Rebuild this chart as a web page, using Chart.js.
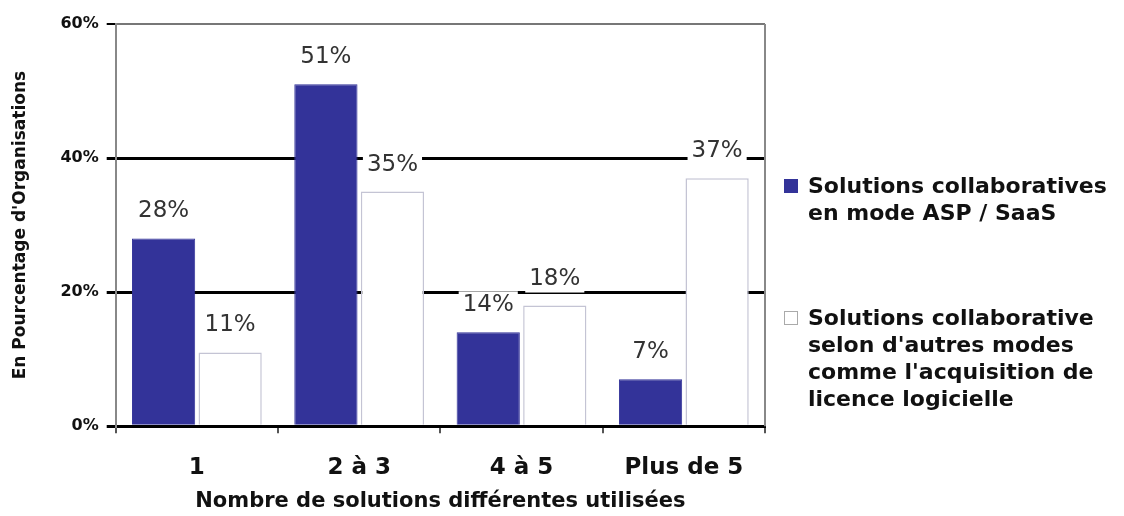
<!DOCTYPE html>
<html>
<head>
<meta charset="utf-8">
<script src="https://cdn.jsdelivr.net/npm/chart.js@4"></script>
<style>
  body { margin: 0; background: #fff; }
  #wrap { position: relative; width: 1124px; height: 516px; overflow: hidden; }
  #legend { position: absolute; left: 784px; top: 0; font-family: "DejaVu Sans", sans-serif; font-weight: bold; font-size: 22px; line-height: 27px; color: #111; }
  .item { position: absolute; left: 0; white-space: nowrap; }
  .box { position: absolute; left: 0; width: 12px; height: 12px; }
  .txt { position: absolute; left: 24px; }
</style>
</head>
<body>
<div id="wrap">
  <canvas id="chart" width="1124" height="516"></canvas>
  <div id="legend"></div>
</div>
<script>
'use strict';

const categories = ['1', '2 à 3', '4 à 5', 'Plus de 5'];
const saasValues = [28, 51, 14, 7];
const otherValues = [11, 35, 18, 37];
const seriesNames = [
    ['Solutions collaboratives', 'en mode ASP / SaaS'],
    ['Solutions collaborative', 'selon d\'autres modes', 'comme l\'acquisition de', 'licence logicielle']
];
const yTicks = [0, 20, 40, 60];

const blue = '#333399';

// value labels with a white box behind them
const valueLabels = {
    id: 'valueLabels',
    afterDatasetsDraw(chart) {
        const ctx = chart.ctx;
        ctx.save();
        ctx.font = '23px "DejaVu Sans", sans-serif';
        ctx.textAlign = 'center';
        ctx.textBaseline = 'middle';
        chart.data.datasets.forEach((ds, i) => {
            chart.getDatasetMeta(i).data.forEach((bar, j) => {
                const text = `${ds.data[j]}%`;
                const y = bar.y - 27;
                const w = ctx.measureText(text).width + 8;
                ctx.fillStyle = '#ffffff';
                ctx.fillRect(bar.x - w / 2, y - 14, w, 28);
                ctx.fillStyle = '#333333';
                ctx.fillText(text, bar.x, y);
            });
        });
        ctx.restore();
    }
};

// right border of the plot
const frame = {
    id: 'frame',
    beforeDatasetsDraw(chart) {
        const a = chart.chartArea;
        const ctx = chart.ctx;
        ctx.save();
        ctx.strokeStyle = '#888888';
        ctx.lineWidth = 2;
        ctx.beginPath();
        ctx.moveTo(a.right, a.top);
        ctx.lineTo(a.right, a.bottom);
        ctx.stroke();
        ctx.restore();
    }
};

const chart = new Chart(document.getElementById('chart'), {
    type: 'bar',
    data: {
        labels: categories,
        datasets: [
            {
                label: seriesNames[0].join(' '),
                data: saasValues,
                backgroundColor: blue,
                borderColor: blue,
                borderWidth: 1,
                categoryPercentage: 0.82,
                barPercentage: 0.95
            },
            {
                label: seriesNames[1].join(' '),
                data: otherValues,
                backgroundColor: '#ffffff',
                borderColor: '#c4c4d4',
                borderWidth: 1.5,
                categoryPercentage: 0.82,
                barPercentage: 0.95
            }
        ]
    },
    options: {
        responsive: false,
        animation: false,
        layout: {
            padding: { left: 10, top: 24, right: 359, bottom: 0 }
        },
        scales: {
            x: {
                grid: {
                    drawOnChartArea: false,
                    tickLength: 7,
                    tickColor: '#555555',
                    lineWidth: 2
                },
                border: { color: '#000000', width: 3 },
                ticks: {
                    color: '#111111',
                    font: { family: '"DejaVu Sans", sans-serif', weight: 'bold', size: 23 },
                    padding: 21
                },
                title: {
                    display: true,
                    text: 'Nombre de solutions différentes utilisées',
                    color: '#111111',
                    font: { family: '"DejaVu Sans", sans-serif', weight: 'bold', size: 21 },
                    padding: { top: -14, bottom: 2 }
                }
            },
            y: {
                min: 0,
                max: 60,
                afterBuildTicks: axis => {
                    axis.ticks = yTicks.map(v => ({ value: v }));
                },
                grid: {
                    color: c => c.tick.value === 60 ? '#777777' : '#000000',
                    lineWidth: c => c.tick.value === 60 ? 2 : 3,
                    tickColor: '#000000',
                    tickLength: 9
                },
                border: { color: '#888888', width: 2 },
                ticks: {
                    color: '#111111',
                    font: { family: '"DejaVu Sans", sans-serif', weight: 'bold', size: 16 },
                    padding: 8,
                    callback: v => `${v}%`
                },
                title: {
                    display: true,
                    text: 'En Pourcentage d\'Organisations',
                    color: '#111111',
                    font: { family: '"DejaVu Sans", sans-serif', weight: 'bold', size: 17 },
                    padding: { top: 0, bottom: 22 }
                }
            }
        },
        plugins: {
            legend: { display: false },
            tooltip: { enabled: false }
        }
    },
    plugins: [frame, valueLabels]
});

// legend drawn as html next to the plot
const legendEl = document.getElementById('legend');
const legendTops = [172, 304];
const legendFills = [blue, '#ffffff'];
seriesNames.forEach((lines, i) => {
    const item = document.createElement('div');
    item.className = 'item';
    item.style.top = `${legendTops[i]}px`;
    const box = document.createElement('div');
    box.className = 'box';
    box.style.top = '7px';
    box.style.background = legendFills[i];
    box.style.border = i === 0 ? `1px solid ${blue}` : '1px solid #aaaaaa';
    const txt = document.createElement('div');
    txt.className = 'txt';
    txt.innerHTML = lines.join('<br>');
    item.appendChild(box);
    item.appendChild(txt);
    legendEl.appendChild(item);
});
</script>
</body>
</html>
